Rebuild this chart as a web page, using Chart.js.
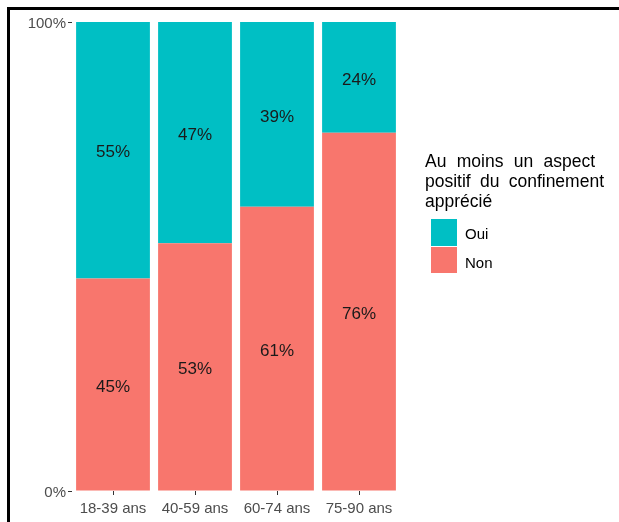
<!DOCTYPE html>
<html>
<head>
<meta charset="utf-8">
<script src="https://cdn.jsdelivr.net/npm/chart.js@4/dist/chart.umd.min.js"></script>
<style>
  html, body { margin: 0; padding: 0; background: #fff; }
  #wrap { position: relative; width: 619px; height: 522px; overflow: hidden; }
  #frame { position: absolute; left: 7px; top: 7px; width: 700px; height: 600px;
           border-top: 3px solid #000; border-left: 3px solid #000; }
  canvas { position: absolute; left: 0; top: 0; }
</style>
</head>
<body>
<div id="wrap">
  <div id="frame"></div>
  <canvas id="chart" width="619" height="522"></canvas>
</div>
<script>
// --- DATA ---
const categories = ['18-39 ans', '40-59 ans', '60-74 ans', '75-90 ans'];
const nonValues = [45.3, 52.8, 60.6, 76.4];
const ouiValues = [54.7, 47.2, 39.4, 23.6];
const yTicks = [0, 100];
const legendTitle = ['Au moins un aspect', 'positif du confinement', 'apprécié'];

const FONT = '"Liberation Sans", Arial, sans-serif';
const TEAL = '#00BFC4';
const SALMON = '#F8766D';

// labels centred in each stacked segment
const segmentLabels = {
    id: 'segmentLabels',
    afterDatasetsDraw(chart) {
        const ctx = chart.ctx;
        ctx.save();
        ctx.font = '17px ' + FONT;
        ctx.fillStyle = '#1a1a1a';
        ctx.textAlign = 'center';
        ctx.textBaseline = 'middle';
        chart.data.datasets.forEach((ds, i) => {
            const meta = chart.getDatasetMeta(i);
            meta.data.forEach((bar, j) => {
                const y = (bar.y + bar.base) / 2 + 2.5;
                ctx.fillText(Math.round(ds.data[j]) + '%', bar.x, y);
            });
        });
        ctx.restore();
    }
};

// ggplot style legend on the right
const sideLegend = {
    id: 'sideLegend',
    afterDraw(chart) {
        const ctx = chart.ctx;
        ctx.save();
        ctx.fillStyle = '#000';
        ctx.textBaseline = 'alphabetic';
        ctx.font = '17.5px ' + FONT;
        const x0 = 425;
        const widths = [170, 179, null];   // justified widths of the title lines
        legendTitle.forEach((line, k) => {
            const y = 167 + k * 20;
            const words = line.split(' ');
            if (!widths[k] || words.length < 2) {
                ctx.fillText(line, x0, y);
                return;
            }
            const textW = words.reduce((s, w) => s + ctx.measureText(w).width, 0);
            const gap = (widths[k] - textW) / (words.length - 1);
            let x = x0;
            words.forEach(w => {
                ctx.fillText(w, x, y);
                x += ctx.measureText(w).width + gap;
            });
        });

        // keys
        ctx.fillStyle = TEAL;
        ctx.fillRect(431, 219, 26, 27);
        ctx.fillStyle = SALMON;
        ctx.fillRect(431, 246, 26, 27);
        ctx.strokeStyle = '#fff';
        ctx.lineWidth = 1;
        ctx.beginPath();
        ctx.moveTo(431, 246.5);
        ctx.lineTo(457, 246.5);
        ctx.stroke();

        ctx.fillStyle = '#000';
        ctx.font = '15px ' + FONT;
        ctx.fillText('Oui', 465, 239);
        ctx.fillText('Non', 465, 268);
        ctx.restore();
    }
};

const ctx = document.getElementById('chart').getContext('2d');
new Chart(ctx, {
    type: 'bar',
    data: {
        labels: categories,
        datasets: [
            { label: 'Non', data: nonValues, backgroundColor: SALMON, borderWidth: 0 },
            { label: 'Oui', data: ouiValues, backgroundColor: TEAL, borderWidth: 0 }
        ]
    },
    options: {
        responsive: false,
        animation: false,
        events: [],
        layout: { padding: { left: 0, top: 22, right: 219, bottom: 0 } },
        datasets: { bar: { categoryPercentage: 0.9, barPercentage: 1.0 } },
        plugins: {
            legend: { display: false },
            tooltip: { enabled: false }
        },
        scales: {
            x: {
                stacked: true,
                offset: true,
                border: { display: false },
                grid: { drawOnChartArea: false, offset: false, tickLength: 4, color: '#333' },
                ticks: { color: '#4d4d4d', font: { family: FONT, size: 15 }, padding: 5, maxRotation: 0 },
                afterFit(scale) { scale.height = 31; }
            },
            y: {
                stacked: true,
                min: 0,
                max: 100,
                border: { display: false },
                grid: { drawOnChartArea: false, tickLength: 4, color: '#333' },
                afterBuildTicks(scale) { scale.ticks = yTicks.map(v => ({ value: v })); },
                ticks: {
                    color: '#4d4d4d',
                    font: { family: FONT, size: 15 },
                    padding: 2,
                    labelOffset: 2,
                    callback: v => v + '%'
                },
                afterFit(scale) { scale.width = 72; }
            }
        }
    },
    plugins: [segmentLabels, sideLegend]
});
</script>
</body>
</html>
